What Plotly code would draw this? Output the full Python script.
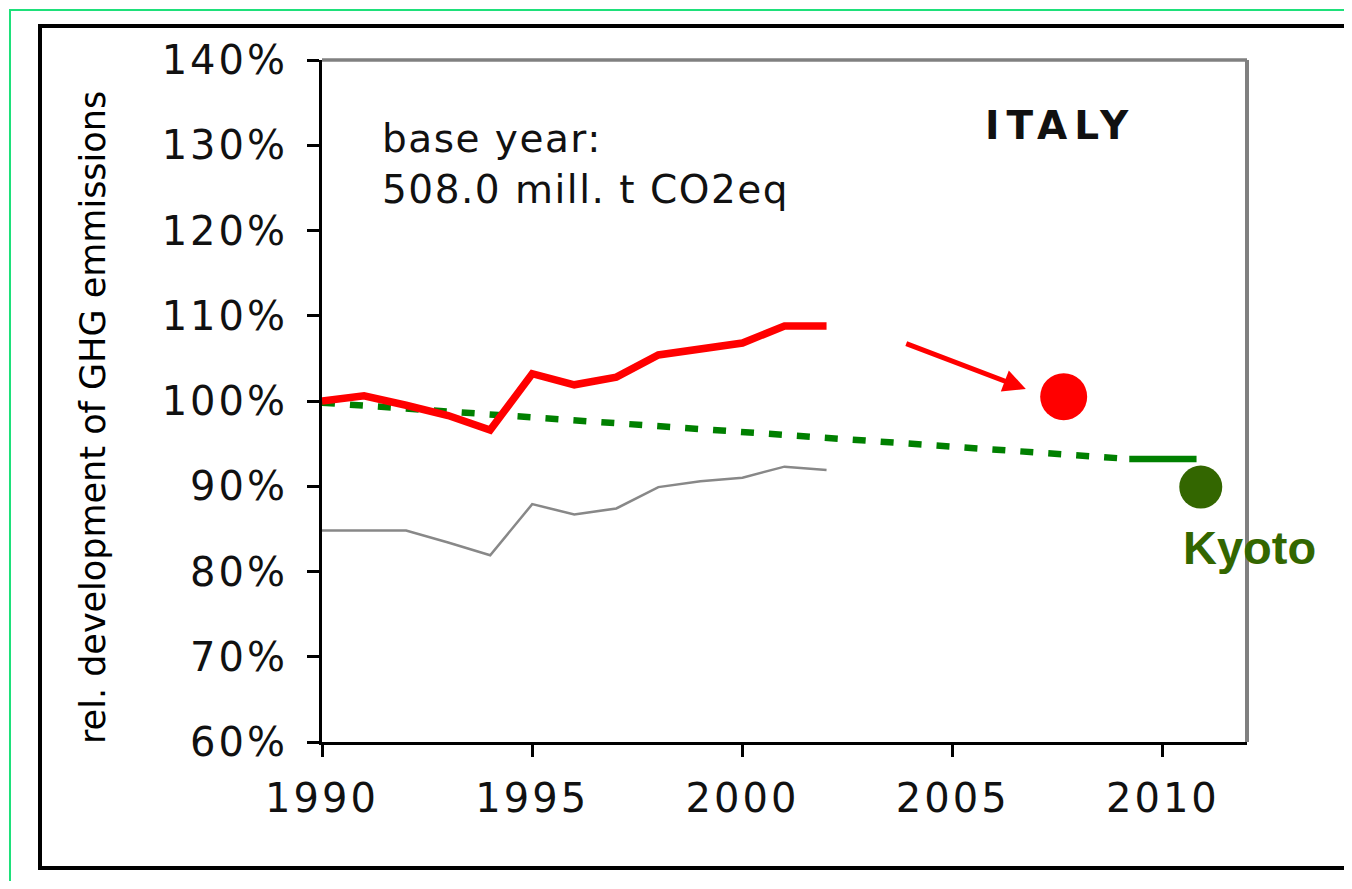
import plotly.graph_objects as go

# ---- data ----
years = [1990, 1991, 1992, 1993, 1994, 1995, 1996, 1997, 1998, 1999, 2000, 2001, 2002]
emissions = [100.0, 100.6, 99.5, 98.3, 96.6, 103.2, 101.9, 102.8, 105.4, 106.1, 106.8, 108.8, 108.8]
gray_series = [84.8, 84.8, 84.8, 83.4, 81.9, 87.9, 86.7, 87.4, 89.9, 90.6, 91.0, 92.3, 91.9]

target_years = [1990, 2002, 2009.2]
target_values = [99.8, 95.7, 93.2]
target_end_years = [2009.2, 2010.8]
target_end_values = [93.2, 93.2]

projection_year, projection_value = 2007.64, 100.5
kyoto_year, kyoto_value = 2010.9, 89.9

arrow_from = (2003.86, 106.8)
arrow_to = (2006.74, 101.4)

y_ticks = [60, 70, 80, 90, 100, 110, 120, 130, 140]
x_ticks = [1990, 1995, 2000, 2005, 2010]

FONT = "DejaVu Sans"
RED = "#ff0000"
GREEN = "#008000"
KYOTO = "#336600"


def spaced(text, sp):
    return f'<span style="letter-spacing:{sp}px">{text}</span>'


fig = go.Figure()

fig.add_trace(go.Scatter(x=years, y=gray_series, mode="lines",
                         line=dict(color="#888888", width=2.5), showlegend=False))
fig.add_trace(go.Scatter(x=target_years, y=target_values, mode="lines",
                         line=dict(color=GREEN, width=6.5, dash="13px,15px"), showlegend=False))
fig.add_trace(go.Scatter(x=target_end_years, y=target_end_values, mode="lines",
                         line=dict(color=GREEN, width=6.5), showlegend=False))
fig.add_trace(go.Scatter(x=years, y=emissions, mode="lines",
                         line=dict(color=RED, width=7.5), showlegend=False))
fig.add_trace(go.Scatter(x=[projection_year], y=[projection_value], mode="markers",
                         marker=dict(color=RED, size=47), showlegend=False, cliponaxis=False))
fig.add_trace(go.Scatter(x=[kyoto_year], y=[kyoto_value], mode="markers",
                         marker=dict(color=KYOTO, size=43), showlegend=False, cliponaxis=False))

# the page body has an 8px margin, so the figure starts at screen (8, 8)
OFF = 8
W, H = 1344, 873
L, T = 322 - OFF, 60 - OFF
R = W - (1247 - OFF)
B = H - (742 - OFF)
pw, ph = W - L - R, H - T - B


def px(xs):
    return (xs - OFF - L) / pw


def py(ys):
    return (H - B - (ys - OFF)) / ph


shapes = [
    # outer green frame
    dict(type="rect", xref="paper", yref="paper", x0=px(10), x1=px(1400), y0=py(940), y1=py(10),
         line=dict(color="#1ee07a", width=2), layer="below"),
    # black frame
    dict(type="rect", xref="paper", yref="paper", x0=px(40), x1=px(1400), y0=py(868), y1=py(26),
         line=dict(color="black", width=4), layer="below"),
    # gray top and right plot border
    dict(type="line", xref="paper", yref="paper", x0=0, x1=1, y0=1, y1=1,
         line=dict(color="#808080", width=3.5), layer="below"),
    dict(type="line", xref="paper", yref="paper", x0=1, x1=1, y0=0, y1=1,
         line=dict(color="#808080", width=4), layer="below"),
]

annotations = [
    dict(xref="paper", yref="paper", x=px(93), y=py(418), text="rel. development of GHG emmissions",
         textangle=-90, showarrow=False, font=dict(family=FONT, size=35, color="black"),
         xanchor="center", yanchor="middle"),
    dict(xref="paper", yref="paper", x=px(380), y=py(164),
         text=spaced("base year:", 1.5) + "<br>" + spaced("508.0 mill. t CO2eq", 1.5),
         showarrow=False, align="left", font=dict(family=FONT, size=39, color="#111111"),
         xanchor="left", yanchor="middle"),
    dict(xref="paper", yref="paper", x=px(1060), y=py(125), text="<b>" + spaced("ITALY", 7) + "</b>",
         showarrow=False, font=dict(family=FONT, size=39, color="#111111"),
         xanchor="center", yanchor="middle"),
    dict(xref="paper", yref="paper", x=px(1249), y=py(547), text="<b>Kyoto</b>",
         showarrow=False, font=dict(family="Liberation Sans", size=47, color=KYOTO),
         xanchor="center", yanchor="middle"),
    dict(x=arrow_to[0], y=arrow_to[1], ax=arrow_from[0], ay=arrow_from[1],
         xref="x", yref="y", axref="x", ayref="y", text="", showarrow=True,
         arrowhead=2, arrowsize=0.9, arrowwidth=5, arrowcolor=RED, standoff=0),
]

fig.update_layout(
    width=W, height=H,
    margin=dict(l=L, r=R, t=T, b=B, pad=0),
    paper_bgcolor="white", plot_bgcolor="white",
    shapes=shapes, annotations=annotations,
    xaxis=dict(range=[1990, 2012], tickmode="array", tickvals=x_ticks,
               ticktext=[spaced(str(v), 3) for v in x_ticks],
               showgrid=False, zeroline=False, showline=True, linecolor="black", linewidth=3,
               ticks="outside", ticklen=12, tickwidth=3, tickcolor="black",
               tickfont=dict(family=FONT, size=40, color="#111111"),
               ticklabelstandoff=7),
    yaxis=dict(range=[60, 140], tickmode="array", tickvals=y_ticks,
               ticktext=[spaced(f"{v}%", 3) for v in y_ticks],
               showgrid=False, zeroline=False, showline=True, linecolor="black", linewidth=3,
               ticks="outside", ticklen=12, tickwidth=3, tickcolor="black",
               tickfont=dict(family=FONT, size=40, color="#111111"),
               ticklabelstandoff=11),
)

fig.write_html("out.html")
